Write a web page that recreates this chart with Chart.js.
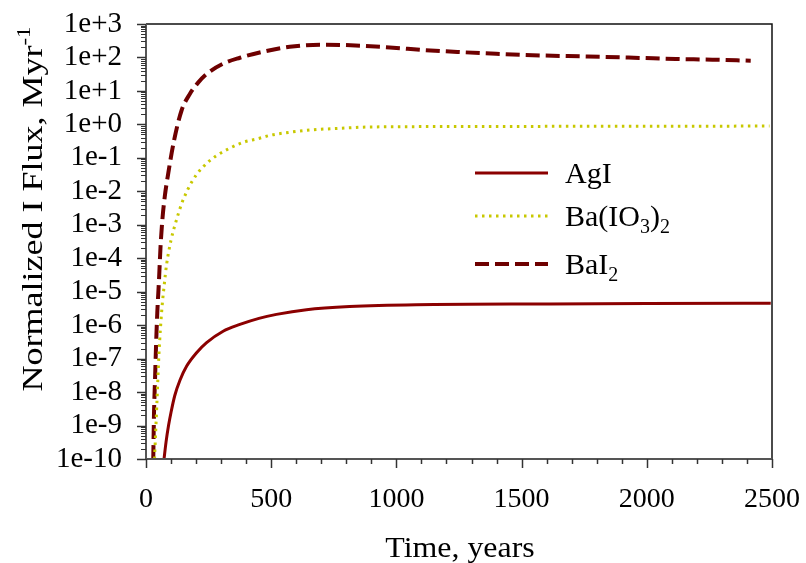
<!DOCTYPE html>
<html>
<head>
<meta charset="utf-8">
<script src="https://cdn.jsdelivr.net/npm/chart.js@4"></script>
<style>
  html, body { margin: 0; padding: 0; background: #fff; }
  #chart { display: block; }
</style>
</head>
<body>
<canvas id="chart" width="806" height="563"></canvas>
<script>
// values
const timeAgI = [72, 80, 90, 100, 115, 136, 162, 202, 242, 308, 375, 451, 521, 641, 813, 1079, 1611, 2000, 2495];
const fluxAgI = [1e-10, 3.2e-10, 1e-9, 2.5e-9, 7.9e-9, 2.3e-8, 5.9e-8, 1.5e-7, 3.0e-7, 6.6e-7, 1.05e-6, 1.6e-6, 2.1e-6, 2.9e-6, 3.6e-6, 4.1e-6, 4.3e-6, 4.4e-6, 4.5e-6];

const timeBaIO3 = [34, 43, 52, 63, 72, 82, 100, 118, 142, 156, 169, 182, 202, 226, 255, 282, 335, 391, 445, 501, 581, 667, 773, 880, 1145, 1500, 2000, 2490];
const fluxBaIO3 = [1e-10, 3.8e-9, 1.5e-7, 2.8e-6, 1.4e-5, 6.3e-5, 3.5e-4, 1.12e-3, 4.2e-3, 7.6e-3, 1.23e-2, 1.86e-2, 3.2e-2, 5.2e-2, 8.3e-2, 0.117, 0.195, 0.295, 0.37, 0.48, 0.59, 0.69, 0.76, 0.83, 0.86, 0.87, 0.88, 0.89];

const timeBaI2 = [29, 32, 36, 40, 45, 52, 58, 66, 75, 89, 112, 142, 175, 209, 242, 307, 375, 467, 574, 700, 787, 973, 1112, 1252, 1398, 1544, 1684, 1823, 1970, 2116, 2262, 2415];
const fluxBaI2 = [1e-10, 2.4e-9, 2.3e-8, 2.3e-7, 2.3e-6, 2.3e-5, 2.2e-4, 1.6e-3, 7e-3, 3.5e-2, 0.33, 2.6, 8.1, 18, 32, 65, 98, 148, 209, 240, 236, 200, 166, 145, 129, 117, 110, 104, 97, 90, 86, 80];

const xMajorTicks = [0, 500, 1000, 1500, 2000, 2500];
const xMinorStep = 100;
const yDecades = [-10, -9, -8, -7, -6, -5, -4, -3, -2, -1, 0, 1, 2, 3];

const SERIF = '"Liberation Serif", "Times New Roman", serif';

const pts = (xs, ys) => xs.map((x, i) => ({ x, y: ys[i] }));

const series = [
  { label: 'AgI', color: '#8b0000', width: 3, dash: [] },
  { label: 'Ba(IO3)2', color: '#c8c800', width: 3, dash: [2.5, 4.5] },
  { label: 'BaI2', color: '#6e0000', width: 4, dash: [14, 6] }
];

// legend text pieces: [text, font size, baseline shift]
const legendParts = [
  [['AgI', 30, 0]],
  [['Ba(IO', 30, 0], ['3', 20, 7], [')', 30, 0], ['2', 20, 7]],
  [['BaI', 30, 0], ['2', 20, 7]]
];

function drawRich(ctx, parts, x, y) {
  let cx = x;
  parts.forEach(([t, size, dy]) => {
    ctx.font = size + 'px ' + SERIF;
    ctx.fillText(t, cx, y + dy);
    cx += ctx.measureText(t).width;
  });
  return cx - x;
}

function measureRich(ctx, parts) {
  let w = 0;
  parts.forEach(([t, size]) => {
    ctx.font = size + 'px ' + SERIF;
    w += ctx.measureText(t).width;
  });
  return w;
}

const decor = {
  id: 'decor',
  afterDraw(chart) {
    const { ctx, chartArea: a, scales: { x, y } } = chart;
    ctx.save();

    // frame
    ctx.strokeStyle = '#111';
    ctx.lineWidth = 1.5;
    ctx.beginPath();
    ctx.moveTo(a.left, a.top); ctx.lineTo(a.right, a.top); ctx.lineTo(a.right, a.bottom);
    ctx.stroke();
    ctx.strokeStyle = '#555';
    ctx.lineWidth = 2;
    ctx.beginPath();
    ctx.moveTo(a.left, a.top); ctx.lineTo(a.left, a.bottom); ctx.lineTo(a.right, a.bottom);
    ctx.stroke();

    // x tick marks
    ctx.lineWidth = 1.5;
    ctx.strokeStyle = '#333';
    for (let v = 0; v <= 2500; v += xMinorStep) {
      const px = Math.round(x.getPixelForValue(v)) + 0.5;
      const len = xMajorTicks.includes(v) ? 9 : 5;
      ctx.beginPath(); ctx.moveTo(px, a.bottom); ctx.lineTo(px, a.bottom + len); ctx.stroke();
    }
    // y tick marks, log minors
    yDecades.forEach(e => {
      for (let m = 1; m <= 9; m++) {
        if (e === 3 && m > 1) break;
        const py = Math.round(y.getPixelForValue(m * Math.pow(10, e))) + 0.5;
        const len = m === 1 ? 9 : 5;
        ctx.lineWidth = m === 1 ? 1.5 : 1;
        ctx.beginPath(); ctx.moveTo(a.left - len, py); ctx.lineTo(a.left, py); ctx.stroke();
      }
    });

    // legend
    ctx.fillStyle = '#000';
    ctx.textBaseline = 'alphabetic';
    ctx.textAlign = 'left';
    const rows = [173, 216, 264];
    series.forEach((s, i) => {
      const ly = rows[i];
      ctx.strokeStyle = s.color;
      ctx.lineWidth = s.width;
      ctx.setLineDash(s.dash);
      ctx.beginPath(); ctx.moveTo(475, ly); ctx.lineTo(548, ly); ctx.stroke();
      ctx.setLineDash([]);
      drawRich(ctx, legendParts[i], 565, ly + 10);
    });

    // y title
    ctx.save();
    ctx.translate(42, 209);
    ctx.rotate(-Math.PI / 2);
    ctx.scale(1.2, 1);
    const yParts = [['Normalized I Flux, Myr', 30, 0], ['-1', 19, -12]];
    const yw = measureRich(ctx, yParts);
    drawRich(ctx, yParts, -yw / 2, 0);
    ctx.restore();

    // x title
    ctx.save();
    ctx.translate(460, 557);
    ctx.scale(1.1, 1);
    const xParts = [['Time, years', 29, 0]];
    const xw = measureRich(ctx, xParts);
    drawRich(ctx, xParts, -xw / 2, 0);
    ctx.restore();

    ctx.restore();
  }
};

new Chart(document.getElementById('chart'), {
  type: 'line',
  data: {
    datasets: [
      { label: 'AgI', data: pts(timeAgI, fluxAgI) },
      { label: 'Ba(IO3)2', data: pts(timeBaIO3, fluxBaIO3) },
      { label: 'BaI2', data: pts(timeBaI2, fluxBaI2) }
    ].map((d, i) => ({
      ...d,
      borderColor: series[i].color,
      borderWidth: series[i].width,
      borderDash: series[i].dash,
      pointRadius: 0,
      fill: false,
      cubicInterpolationMode: 'monotone'
    }))
  },
  options: {
    responsive: false,
    animation: false,
    devicePixelRatio: 1,
    layout: { padding: { top: 24, right: 34, left: 0, bottom: 0 } },
    plugins: { legend: { display: false }, tooltip: { enabled: false } },
    scales: {
      x: {
        type: 'linear', min: 0, max: 2500,
        border: { display: false },
        grid: { display: false, drawTicks: true, tickLength: 24 },
        ticks: { font: { family: SERIF, size: 28 }, color: '#000', padding: 0, autoSkip: false, maxRotation: 0, callback: v => String(v) },
        afterBuildTicks: s => { s.ticks = xMajorTicks.map(v => ({ value: v })); },
        afterFit: s => { s.height = 104; }
      },
      y: {
        type: 'logarithmic', min: 1e-10, max: 1e3,
        border: { display: false },
        grid: { display: false, drawTicks: true, tickLength: 24 },
        ticks: {
          font: { family: SERIF, size: 29 }, color: '#000', padding: 0, autoSkip: false,
          callback: v => {
            const e = Math.round(Math.log10(v));
            return '1e' + (e >= 0 ? '+' : '-') + Math.abs(e);
          }
        },
        afterBuildTicks: s => { s.ticks = yDecades.map(e => ({ value: Math.pow(10, e) })); },
        afterFit: s => { s.width = 146; }
      }
    }
  },
  plugins: [decor]
});
</script>
</body>
</html>
